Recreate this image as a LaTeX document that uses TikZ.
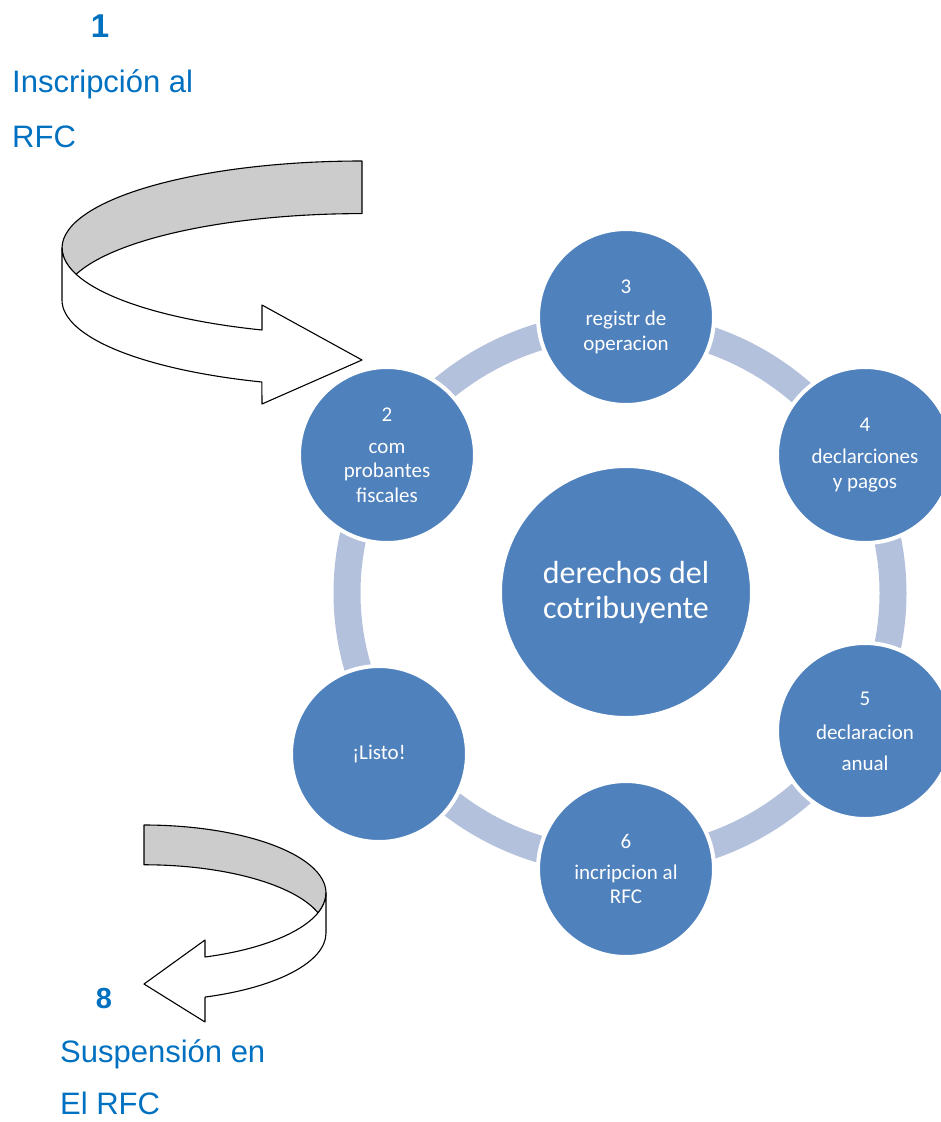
\documentclass[tikz,border=0pt]{standalone}
\usepackage{fontspec}
\setmainfont{Liberation Sans}
\newfontfamily\calibri{Carlito}
\usepackage{tikz}
\usetikzlibrary{positioning}
\definecolor{cyclefill}{HTML}{4F81BD}
\definecolor{cyclering}{HTML}{B3C1DC}
\definecolor{labelblue}{HTML}{0070C0}
\definecolor{ribbongray}{HTML}{CCCCCC}

\begin{document}
\begin{tikzpicture}[x=1pt,y=-1pt,
    stage/.style={circle, fill=cyclefill, draw=white, line width=4pt, minimum size=176pt,
      inner sep=0pt, text=white, align=center, font=\calibri\fontsize{21}{24.5}\selectfont},
    hub/.style={stage, minimum size=252pt, font=\calibri\fontsize{32}{35}\selectfont},
    steplabel/.style={anchor=base west, text=labelblue, inner sep=0pt, font=\fontsize{31}{31}\selectfont},
    stepnum/.style={anchor=base, text=labelblue, inner sep=0pt, font=\bfseries\fontsize{33}{33}\selectfont},
    ribbon/.style={draw=black, line width=1.1pt, line join=round}]
    \useasboundingbox (0,0) rectangle (941,1122);
    % ring behind the stages
    \draw[cyclering, line width=27pt] (620,593) ellipse [x radius=273, y radius=268];
    % stages of the cycle
    \node[stage] (reg) at (626,317) {3\\[7.5pt]registr de\\operacion};
    \node[stage] (decl) at (865,455) {4\\[8pt]declarciones\\y pagos};
    \node[stage] (anual) at (865,731) {5\\[9.5pt]declaracion\\[6.5pt]anual};
    \node[stage] (inscr) at (626,869) {6\\[6.5pt]incripcion al\\RFC};
    \node[stage] (listo) at (379,754) {¡Listo!};
    \node[stage] (comp) at (387,455) {2\\[7.5pt]com\\probantes\\fiscales};
    \node[hub] (centro) at (626,592) {derechos del\\cotribuyente};
    % upper curved arrow
    \draw[ribbon, fill=ribbongray] (362,161)
      arc[start angle=270, end angle=162.4, x radius=300, y radius=87]
      arc[start angle=197.6, end angle=270, x radius=300, y radius=87] -- cycle;
    \draw[ribbon, fill=white] (62,248) -- (62,300)
      arc[start angle=180, end angle=109.5, x radius=300, y radius=87]
      -- (262,404) -- (362,360) -- (262,305) -- (262,330)
      arc[start angle=109.5, end angle=180, x radius=300, y radius=87] -- cycle;
    % lower curved arrow
    \draw[ribbon, fill=ribbongray] (144,825)
      arc[start angle=-90, end angle=17, x radius=182, y radius=68]
      arc[start angle=-17, end angle=-90, x radius=182, y radius=68] -- cycle;
    \draw[ribbon, fill=white] (326,893) -- (326,933)
      arc[start angle=0, end angle=70.4, x radius=182, y radius=68]
      -- (205,1022) -- (144,984) -- (205,940) -- (205,957)
      arc[start angle=70.4, end angle=0, x radius=182, y radius=68] -- cycle;
    % labels of steps 1 and 8
    \node[stepnum] (num1) at (100,37) {1};
    \node[steplabel] (lab1a) at (12,92) {Inscripción al};
    \node[steplabel] (lab1b) at (12,147) {RFC};
    \node[stepnum, font=\bfseries\fontsize{29}{29}\selectfont] (num8) at (104,1008) {8};
    \node[steplabel] (lab8a) at (60,1062) {Suspensión en};
    \node[steplabel] (lab8b) at (60,1114) {El RFC};
\end{tikzpicture}
\end{document}
